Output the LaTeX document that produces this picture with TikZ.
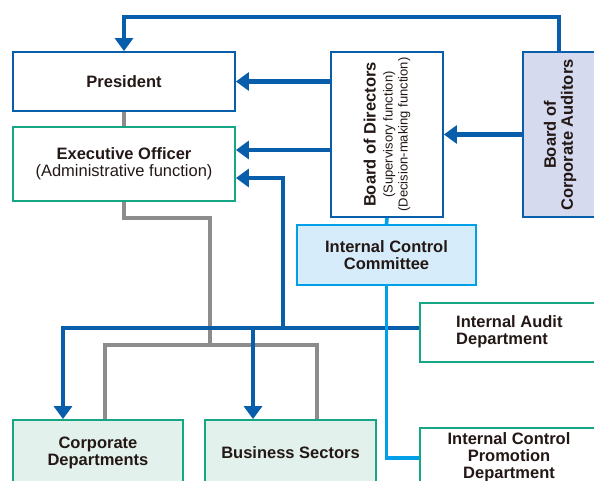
\documentclass[tikz,border=0pt]{standalone}
\usepackage{fontspec}
\setmainfont{Liberation Sans}
\usetikzlibrary{arrows.meta}
\definecolor{blueC}{RGB}{8,94,170}
\definecolor{tealC}{RGB}{22,166,134}
\definecolor{grayC}{RGB}{140,140,140}
\definecolor{cyanC}{RGB}{0,160,233}
\definecolor{lblue}{RGB}{214,236,250}
\definecolor{lav}{RGB}{213,218,238}
\definecolor{lgreen}{RGB}{226,241,236}
\definecolor{txt}{RGB}{35,24,21}
\begin{document}
\begin{tikzpicture}[x=1pt,y=-1pt,
  box/.style={draw, line width=1.8pt, inner sep=0pt, align=center, text=txt,
    font=\fontsize{16.5}{17}\selectfont\bfseries},
  lbl/.style={inner sep=0pt, text=txt, font=\fontsize{16.5}{17}\selectfont\bfseries},
  bl/.style={draw=blueC, line width=4.3pt},
  gr/.style={draw=grayC, line width=3.6pt},
  cy/.style={draw=cyanC, line width=3.6pt},
  tip/.style={-{Triangle[width=18pt,length=13pt]}}
]
\useasboundingbox (0,0) rectangle (594,481);
\clip (0,0) rectangle (594,481);

% boxes
\node[box, draw=blueC, minimum width=222pt, minimum height=59pt] (pres) at (124,81.5) {President};
\node[box, draw=tealC, minimum width=222pt, minimum height=74pt] (exec) at (124,164)
  {Executive Officer\\\mdseries (Administrative function)};
\node[box, draw=blueC, fill=white, minimum width=112pt, minimum height=165pt] (board) at (387,134.5) {};
\node[rotate=90, align=center, inner sep=0pt, text=txt, font=\fontsize{13}{15}\selectfont] (boardtxt) at (board.center)
  {{\fontsize{16.5}{17}\selectfont\bfseries Board of Directors}\\[2pt](Supervisory function)\\(Decision-making function)};
\node[box, draw=blueC, fill=lav, minimum width=80pt, minimum height=165pt] (aud) at (563,134.5) {};
\node[lbl, rotate=90, align=center] (audtxt) at (560,135) {Board of\\Corporate Auditors};
\node[box, draw=cyanC, fill=lblue, minimum width=179pt, minimum height=60pt] (icc) at (386.5,255) {Internal Control\\Committee};
\node[box, draw=tealC, minimum width=190pt, minimum height=59pt] (iad) at (515,332.5) {};
\node[lbl, align=left, anchor=west] (iadtxt) at (456,332) {Internal Audit\\Department};
\node[box, draw=tealC, minimum width=190pt, minimum height=60pt] (icpd) at (515,458) {};
\node[lbl, align=center] (icpdtxt) at (509,457) {Internal Control\\Promotion\\Department};
\node[box, draw=tealC, fill=lgreen, minimum width=170pt, minimum height=66pt] (corp) at (98,453) {Corporate\\Departments};
\node[box, draw=tealC, fill=lgreen, minimum width=171pt, minimum height=66pt] (bus) at (290.5,453) {Business Sectors};

% coordinates
\coordinate (topL) at (124,17);
\coordinate (y150) at (0,150);
\coordinate (gj) at (210,345);
\coordinate (bjA) at (283,328);
\coordinate (bjB) at (253,328);
\coordinate (bjC) at (63,328);

% gray lines
\draw[gr] (pres.south) -- (exec.north);
\draw[gr] (exec.south) -- ++(0,16) -| (gj);
\draw[gr] ([xshift=7pt]corp.north) |- (gj) -| ([xshift=26.5pt]bus.north);

% blue lines
\draw[bl, tip] ([xshift=-4pt]aud.north) |- (topL) -- (pres.north);
\draw[bl, tip] (board.west |- pres.east) -- (pres.east);
\draw[bl, tip] (board.west |- y150) -- (exec.east |- y150);
\draw[bl, tip] (aud.west) -- (board.east);
\draw[bl, tip] (iad.west |- bjA) -| (bjC |- corp.north);
\draw[bl, tip] (bjB) -- (bjB |- bus.north);
\draw[bl, tip] (bjA) |- ([yshift=-14pt]exec.east);

% cyan lines
\draw[cy] (board.south) -- (icc.north);
\draw[cy] (icc.south) |- (icpd.west);
\end{tikzpicture}
\end{document}
